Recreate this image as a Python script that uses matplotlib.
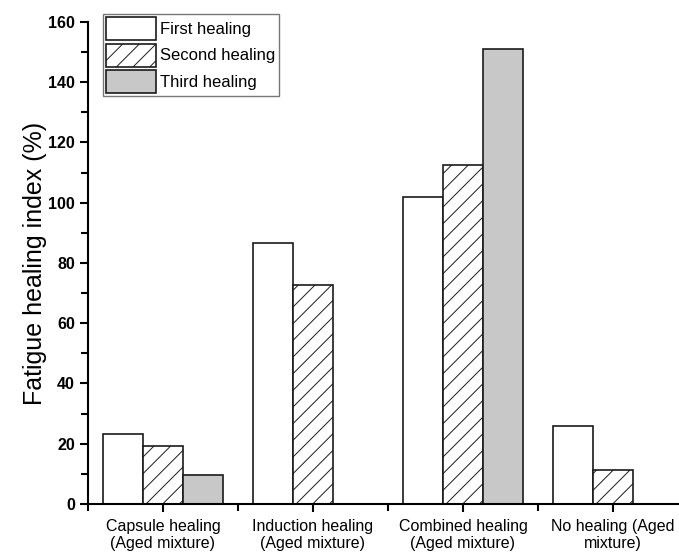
import matplotlib
matplotlib.use("Agg")
import matplotlib.pyplot as plt
import numpy as np
from matplotlib.ticker import MultipleLocator, FixedLocator

plt.rcParams['font.family'] = ['Liberation Sans', 'DejaVu Sans']
plt.rcParams['hatch.linewidth'] = 0.7
plt.rcParams['hatch.color'] = '#444444'

categories = ["Capsule healing\n(Aged mixture)", "Induction healing\n(Aged mixture)",
              "Combined healing\n(Aged mixture)", "No healing (Aged\nmixture)"]
first_healing = [23.2, 86.5, 102.0, 26.0]
second_healing = [19.3, 72.8, 112.5, 11.2]
third_healing = [9.6, 0.0, 151.0, 0.0]
series_names = ["First healing", "Second healing", "Third healing"]

fig = plt.figure(figsize=(6.79, 5.54), dpi=100)
ax = fig.add_axes([0.1296, 0.0903, 0.8704, 0.87])

x = np.arange(1, len(categories) + 1)
w = 0.2667
b1 = ax.bar(x - w, first_healing, w, facecolor='white', edgecolor='#1a1a1a', linewidth=1.2,
            label=series_names[0])
b2 = ax.bar(x, second_healing, w, facecolor='white', edgecolor='#1a1a1a', linewidth=1.2,
            hatch='//', label=series_names[1])
third_x = [xi + w for xi, v in zip(x, third_healing) if v > 0]
third_v = [v for v in third_healing if v > 0]
b3 = ax.bar(third_x, third_v, w, facecolor='#c8c8c8', edgecolor='#1a1a1a', linewidth=1.2,
            label=series_names[2])

ax.set_xlim(0.5, 4.44)
ax.set_ylim(0, 160)
for s in ['top', 'right']:
    ax.spines[s].set_visible(False)
for s in ['left', 'bottom']:
    ax.spines[s].set_linewidth(1.5)

ax.set_xticks(x)
ax.set_xticklabels(categories, fontsize=11.5, linespacing=1.15)
ax.xaxis.set_minor_locator(FixedLocator([0.5, 1.5, 2.5, 3.5]))
ax.yaxis.set_major_locator(MultipleLocator(20))
ax.yaxis.set_minor_locator(MultipleLocator(10))
ax.tick_params(axis='both', which='major', direction='out', length=6, width=1.5)
ax.tick_params(axis='both', which='minor', direction='out', length=5, width=1.5)
ax.tick_params(axis='x', which='major', pad=5)
ax.tick_params(axis='y', labelsize=11.5)
for t in ax.get_yticklabels():
    t.set_fontweight('bold')

ax.set_ylabel("Fatigue healing index (%)", fontsize=18, labelpad=1)

leg = ax.legend(loc='upper left', bbox_to_anchor=(0.025, 1.017), fontsize=12,
                handlelength=3.0, handleheight=1.75, handletextpad=0.25,
                labelspacing=0.2, borderpad=0.2, borderaxespad=0.0,
                fancybox=False, frameon=True)
leg.get_frame().set_edgecolor('#555555')
leg.get_frame().set_linewidth(1.0)

fig.savefig("out.png", dpi=100)
